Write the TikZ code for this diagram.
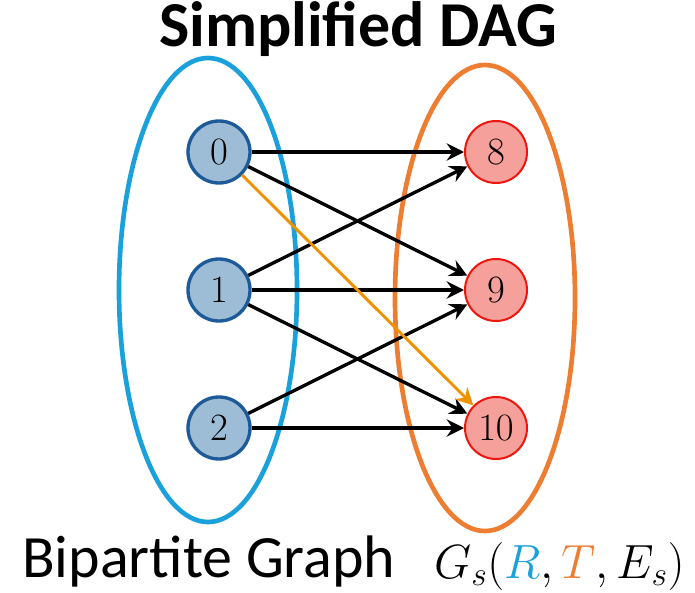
\documentclass[tikz,border=0pt]{standalone}
\usepackage{fix-cm}
\usepackage{fontspec}
\setmainfont{Carlito}
\usetikzlibrary{arrows.meta}

\definecolor{setblue}{RGB}{26,160,219}
\definecolor{setorange}{RGB}{237,125,49}
\definecolor{srcfill}{RGB}{157,188,214}
\definecolor{srcdraw}{RGB}{28,90,152}
\definecolor{dstfill}{RGB}{245,160,155}
\definecolor{dstdraw}{RGB}{238,22,12}
\definecolor{pathorange}{RGB}{240,145,0}

\tikzset{
  srcnode/.style={circle, draw=srcdraw, fill=srcfill, line width=2.5pt, minimum size=46.5pt, inner sep=0pt, font=\fontsize{29}{29}\selectfont},
  dstnode/.style={circle, draw=dstdraw, fill=dstfill, line width=1.5pt, minimum size=46.5pt, inner sep=0pt, font=\fontsize{29}{29}\selectfont},
  edge/.style={-{Stealth[length=13pt,width=13pt,inset=4.5pt]}, line width=2.5pt},
}

\begin{document}
\begin{tikzpicture}[x=0.75pt, y=-0.75pt]
	\useasboundingbox (0,0) rectangle (695,592);
	% Hai tập đỉnh R và T
	\draw[setblue, line width=3.5pt] (208,290) ellipse [x radius=89, y radius=232];
	\draw[setorange, line width=3.5pt] (485,298) ellipse [x radius=90, y radius=233];
	
	% Các đỉnh bên trái
	\node[srcnode] (n0) at (219,152) {$0$};
	\node[srcnode] (n1) at (219,290) {$1$};
	\node[srcnode] (n2) at (219,428) {$2$};
	% Các đỉnh bên phải
	\node[dstnode] (n8) at (496,152) {$8$};
	\node[dstnode] (n9) at (496,290) {$9$};
	\node[dstnode] (n10) at (496,428) {$10$};
	
	% Các cạnh
	\draw[edge] (n0) -- (n8);
	\draw[edge] (n0) -- (n9);
	\draw[edge] (n1) -- (n8);
	\draw[edge] (n1) -- (n9);
	\draw[edge] (n1) -- (n10);
	\draw[edge] (n2) -- (n9);
	\draw[edge] (n2) -- (n10);
	\draw[edge, pathorange, line width=2.2pt] (n0) -- (n10);
	
	% Tiêu đề và chú thích
	\node[anchor=base, inner sep=0pt, font=\fontsize{48}{48}\selectfont\bfseries] (title) at (358,47) {Simplified DAG};
	\node[anchor=base west, inner sep=0pt, font=\fontsize{45}{45}\selectfont] (caption) at (22,577) {Bipartite Graph};
	\node[anchor=base east, inner sep=0pt, font=\fontsize{36}{36}\selectfont] (gs) at (685,578) {$G_s(\textcolor{setblue}{R},\textcolor{setorange}{T},E_s)$};
\end{tikzpicture}
\end{document}
